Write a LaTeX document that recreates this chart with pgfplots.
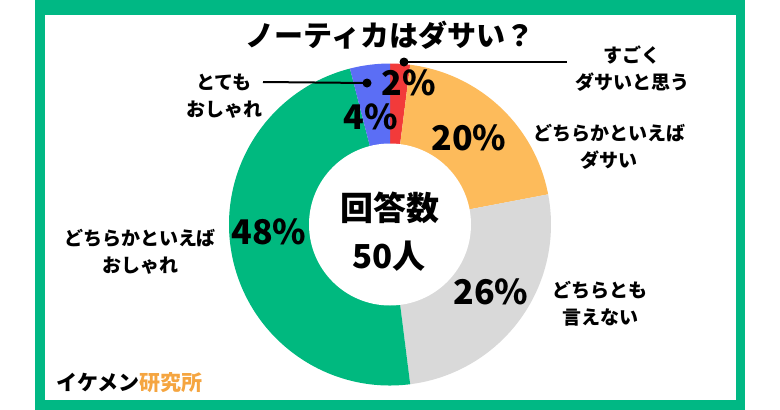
\documentclass[border=0pt]{standalone}
\usepackage{pgfplots}
\pgfplotsset{compat=1.18}
\usepackage{fontspec}
\setmainfont{Noto Sans CJK JP}
\definecolor{frameg}{HTML}{00B884}
\definecolor{sgreen}{HTML}{00B97F}
\definecolor{sorange}{HTML}{FDBB5B}
\definecolor{sgray}{HTML}{D9D9D9}
\definecolor{sred}{HTML}{F23A3A}
\definecolor{sblue}{HTML}{5B6EF5}
\definecolor{logoor}{HTML}{F5A540}
% slice: cumulative percent start, end, colour
\newcommand{\slice}[3]{%
  \fill[#3] (axis cs:390,224.5) -- ++({90-3.6*#1}:161pt)
    arc[start angle={90-3.6*#1}, end angle={90-3.6*#2}, radius=161pt] -- cycle;}
\begin{document}
\begin{tikzpicture}
\begin{axis}[
  at={(0,0)}, anchor=south west,
  scale only axis, width=780pt, height=410pt,
  xmin=0, xmax=780, ymin=0, ymax=410, y dir=reverse,
  hide axis, clip=false]
\path (axis cs:0,0) rectangle (axis cs:780,410);
% frame
\fill[frameg] (axis cs:35,0) rectangle (axis cs:745,410);
\fill[white] (axis cs:45,15) rectangle (axis cs:736,400);
% donut: 2, 20, 26, 48, 4 percent
\slice{0}{2}{sred}
\slice{2}{22}{sorange}
\slice{22}{48}{sgray}
\slice{48}{96}{sgreen}
\slice{96}{100}{sblue}
\fill[white] (axis cs:390,224.5) circle[radius=81pt];
% title
\node[font=\fontsize{29pt}{34pt}\selectfont\bfseries] at (axis cs:390,35) {ノーティカはダサい？};
% center
\node[font=\fontsize{33pt}{40pt}\selectfont\bfseries] at (axis cs:390,208) {回答数};
\node[font=\fontsize{33pt}{40pt}\selectfont\bfseries] at (axis cs:389,256) {50人};
% percentages
\begin{scope}[every node/.style={font=\fontsize{34pt}{40pt}\selectfont\bfseries}]
\node at (axis cs:409,83) {2\%};
\node at (axis cs:371,117) {4\%};
\node at (axis cs:469,138) {20\%};
\node at (axis cs:491,292) {26\%};
\node at (axis cs:269,232) {48\%};
\end{scope}
% leaders
\draw[line width=2pt] (axis cs:404,62) -- (axis cs:567,62);
\fill (axis cs:404,62) circle[radius=4.5pt];
\draw[line width=2pt] (axis cs:263,82) -- (axis cs:367,83);
\fill (axis cs:367,83) circle[radius=4.5pt];
% category labels
\begin{scope}[every node/.style={font=\fontsize{19pt}{27pt}\selectfont\bfseries, align=center}]
\node at (axis cs:632,69) {すごく\\ダサいと思う};
\node at (axis cs:609,147) {どちらかといえば\\ダサい};
\node at (axis cs:600,304) {どちらとも\\言えない};
\node at (axis cs:140,252) {どちらかといえば\\おしゃれ};
\node at (axis cs:224,96) {とても\\おしゃれ};
\end{scope}
% logo
\node[anchor=west, font=\fontsize{21pt}{25pt}\selectfont\bfseries, inner sep=0pt] at (axis cs:56,383) {イケメン\textcolor{logoor}{研究所}};
\end{axis}
\end{tikzpicture}
\end{document}
